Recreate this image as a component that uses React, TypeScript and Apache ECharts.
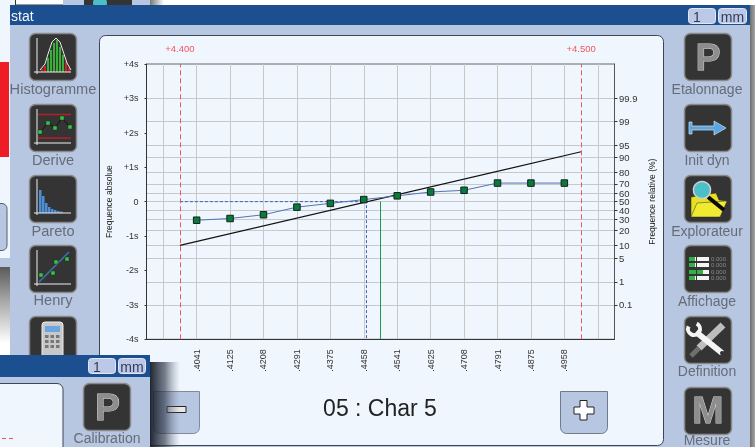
import React, { useEffect, useRef } from "react";
import * as echarts from "echarts";

const xValues = [4.40417, 4.4125, 4.42083, 4.42917, 4.4375, 4.44583, 4.45417, 4.4625, 4.47083, 4.47917, 4.4875, 4.49583];
const xTickLabels = [".4041", ".4125", ".4208", ".4291", ".4375", ".4458", ".4541", ".4625", ".4708", ".4791", ".4875", ".4958"];
const xGridValues = [4.39583, ...xValues, 4.50417];
const henryValues = [-0.54, -0.49, -0.38, -0.16, -0.05, 0.06, 0.17, 0.28, 0.33, 0.54, 0.54, 0.54];
const fitLine = [[4.4, -1.27], [4.5, 1.45]];
const medianGuide = [[4.4, 0], [4.4465, 0], [4.4465, -4]];
const meanGuide = [[4.45, 0], [4.45, -4]];
const limits = [4.4, 4.5];
const limitLabels = ["+4.400", "+4.500"];
const sigmaTicks = [-4, -3, -2, -1, 0, 1, 2, 3, 4];
const sigmaLabels = ["-4s", "-3s", "-2s", "-1s", "0", "+1s", "+2s", "+3s", "+4s"];
const percentTicks = [-3, -2.33, -1.645, -1.28, -0.84, -0.52, -0.25, 0, 0.25, 0.52, 0.84, 1.28, 1.645, 2.33, 3];
const percentLabels = ["0.1", "1", "5", "10", "20", "30", "40", "50", "60", "70", "80", "90", "95", "99", "99.9"];
const characteristic = "05 : Char 5";
const leftTools = ["Histogramme", "Derive", "Pareto", "Henry"];
const rightTools = ["Etalonnage", "Init dyn", "Explorateur", "Affichage", "Definition", "Mesure"];

const FONT = '"Liberation Sans", Arial, sans-serif';
const BODY = "#b7c6e1";
const TITLE = "#1c4f8f";
const PANEL = "#eff6fd";
const ICON = "#343434";

type El = Record<string, any>;

const rect = (x: number, y: number, w: number, h: number, fill: any, z = -10, stroke?: string, r: any = 0, lineWidth = 1): El => ({
  type: "rect", silent: true, z, shape: { x, y, width: w, height: h, r },
  style: { fill, stroke: stroke ?? "none", lineWidth },
});
const text = (x: number, y: number, t: string, size: number, fill: string, z = -10, align = "center", extra: El = {}): El => ({
  type: "text", silent: true, z, x, y,
  style: { text: t, fontSize: size, fontFamily: FONT, fill, textAlign: align, textVerticalAlign: "middle", ...extra },
});
const line = (x1: number, y1: number, x2: number, y2: number, stroke: string, lineWidth = 1, z = -9, lineDash?: number[]): El => ({
  type: "line", silent: true, z, shape: { x1, y1, x2, y2 }, style: { stroke, lineWidth, lineDash },
});
const poly = (points: number[][], fill: string, z = -9, stroke?: string, lineWidth = 1): El => ({
  type: "polygon", silent: true, z, shape: { points }, style: { fill, stroke: stroke ?? "none", lineWidth },
});
const pline = (points: number[][], stroke: string, lineWidth = 1, z = -9): El => ({
  type: "polyline", silent: true, z, shape: { points }, style: { stroke, lineWidth, fill: "none" },
});
const circle = (cx: number, cy: number, r: number, fill: string, z = -9, stroke?: string, lineWidth = 1): El => ({
  type: "circle", silent: true, z, shape: { cx, cy, r }, style: { fill, stroke: stroke ?? "none", lineWidth },
});
const hGrad = (stops: [number, string][]) => ({
  type: "linear", x: 0, y: 0, x2: 1, y2: 0, colorStops: stops.map(([offset, color]) => ({ offset, color })),
});
const vGrad = (stops: [number, string][]) => ({
  type: "linear", x: 0, y: 0, x2: 0, y2: 1, colorStops: stops.map(([offset, color]) => ({ offset, color })),
});

const frame = (x: number, y: number, z = -9, h = 47) => rect(x + 0.5, y + 0.5, 47, h, ICON, z, "#8a8a8a", 6, 1.5);
const square = (x: number, y: number) => rect(x - 2, y - 2, 4, 4, "#3fc04a", -8, "#0c3a12", 0, 0.5);
const axes = (ox: number, oy: number, top: number, right: number): El[] => [
  line(ox, top, ox, oy + 2, "#eeeeee", 1, -8),
  line(ox - 3, oy, right, oy, "#eeeeee", 1, -8),
];
const letter = (cx: number, cy: number, t: string, z = -8) =>
  text(cx, cy, t, 37, "#8d8d8d", z, "center", { fontWeight: "bold", stroke: "#d8d8d8", lineWidth: 1 });
const fieldBox = (x: number, y: number, w: number, t: string, z: number, left = false) =>
  [
    rect(x + 0.5, y + 0.5, w, 15, "#bcc8e8", z, "#dfe6f4", 3, 1),
    left
      ? text(x + 5, y + 8.5, t, 14, "#333a55", z + 1, "left")
      : text(x + w / 2 + 0.5, y + 8.5, t, 14, "#333a55", z + 1),
  ];

function chrome(): El[] {
  const els: El[] = [];
  // desktop behind the windows
  els.push(rect(0, 0, 755, 447, "#ffffff", -12));
  els.push(rect(0, 0, 10, 258, PANEL, -11));
  els.push(rect(0, 62, 9, 95, "#ee1c25", -11));
  els.push(rect(-6, 203.5, 13, 47, BODY, -11, "#555f70", 5));
  els.push(rect(0, 258, 10, 9, BODY, -11));
  els.push(rect(0, 267, 10, 76, vGrad([[0, "#5a5a5a"], [0.45, "#a8a8a8"], [1, "#ffffff"]]), -11));
  // the window peeking out above
  els.push(rect(0, 0, 150, 5, PANEL, -11));
  els.push(rect(15.5, -3, 48, 8, "#ffffff", -11, "#333333"));
  els.push(rect(63, 0, 87, 5, BODY, -11));
  els.push(rect(84, -5, 48, 10, ICON, -11));
  els.push(circle(100, 3, 7, "#4cc0c8", -10.5));
  els.push(rect(150, 0, 14, 5, hGrad([[0, "#7a7a7a"], [1, "#ffffff"]]), -11));
  // main window
  els.push(rect(750, 5, 5, 442, hGrad([[0, "#6e6e6e"], [1, "#a6a6a6"]]), -11));
  els.push(rect(10, 5, 740, 442, BODY));
  els.push(rect(10, 5, 740, 20, TITLE));
  els.push(text(11, 16, "stat", 14, "#f2f6ff", -9, "left"));
  els.push(...fieldBox(688, 8, 27, "1", -9, true), ...fieldBox(718, 8, 28, "mm", -9));
  els.push(rect(99.5, 35.5, 564, 410, PANEL, -9.5, "#3c4656", 6, 1));
  // left icons
  const leftY = [33, 104, 175, 245, 316];
  const leftLabelY = [89, 160, 231, 300];
  leftY.forEach((y) => els.push(frame(29, y)));
  leftTools.forEach((t, i) => els.push(text(53, leftLabelY[i], t, 14.6, "#666c78")));
  // histogram icon
  els.push(...axes(37, 72, 38, 71));
  const histo: [number, number, number, string][] = [
    [41, 2, 3, "#d02020"], [44, 2, 6, "#d02020"], [47, 2, 14, "#38b038"], [50, 2, 22, "#38b038"], [53, 2, 29, "#38b038"],
    [56, 2, 32, "#38b038"], [59, 2, 25, "#38b038"], [62, 2, 17, "#38b038"], [65, 2, 10, "#d02020"], [68, 2, 4, "#d02020"],
  ];
  histo.forEach(([x, w, h, c]) => els.push(rect(x, 72 - h, w, h, c, -8.5)));
  els.push(pline([[40, 70], [45, 64], [48, 54], [52, 42], [56, 38], [60, 42], [64, 54], [67, 63], [71, 70]], "#e8e8e8", 1, -8));
  // derive icon
  els.push(...axes(37, 143, 109, 71));
  els.push(line(38, 114.5, 71, 114.5, "#b02028", 1.5), line(38, 138, 71, 138, "#b02028", 1.5));
  const drift = [[40, 132], [48, 123], [55, 128], [62, 118], [70, 127]];
  els.push(pline(drift, "#111111", 1, -8.5));
  drift.forEach(([x, y]) => els.push(square(x, y)));
  // pareto icon
  els.push(...axes(37, 213, 179, 71));
  [[39, 23], [42, 17], [45, 10], [48, 6], [51, 4], [54, 3], [57, 2], [60, 1.5]].forEach(([x, h]) =>
    els.push(rect(x, 213 - h, 2.5, h, "#4a90d8", -8.5)));
  // henry icon
  els.push(...axes(37, 284, 250, 71));
  els.push(line(39, 282, 69, 252, "#3f70b0", 1.5));
  [[41, 275], [53, 273], [56, 262], [67, 259]].forEach(([x, y]) => els.push(square(x, y)));
  // calculator icon
  els.push(rect(42, 322, 21, 36, "#c8c8c8", -8, "#eeeeee", 3));
  els.push(rect(45, 326, 15, 6, "#6ca6e0", -7));
  for (let r = 0; r < 3; r++) for (let c = 0; c < 3; c++) els.push(rect(45 + c * 5.5, 335 + r * 5, 3.5, 3, "#777777", -7));
  // right icons
  const rightY = [33, 104, 175, 245, 316, 387];
  const rightLabelY = [89, 160, 231, 301, 371, 440];
  rightY.forEach((y) => els.push(frame(684, y)));
  rightTools.forEach((t, i) => els.push(text(707, rightLabelY[i], t, 14, "#666c78")));
  els.push(letter(708, 57, "P"));
  els.push(letter(708, 410, "M"));
  // arrow
  els.push(poly([[689, 122], [692, 122], [692, 126], [714, 126], [714, 121], [726, 128], [714, 135], [714, 130], [692, 130], [692, 134], [689, 134]], "#5ba5e4", -8, "#d0e4f4", 0.7));
  // explorer
  els.push(poly([[691, 197], [716, 193], [719, 200], [727, 201], [720, 217], [691, 217]], "#e6e020", -8, "#222222", 0.5));
  els.push(poly([[691, 217], [697, 203], [727, 201], [720, 217]], "#f0ea30", -7.8, "#333333", 0.5));
  els.push(line(708, 197, 724, 210, "#0a0a0a", 4, -7.5));
  els.push(circle(702, 190, 8.5, "#4cc0c8", -7.5, "#cfcfcf", 1.5));
  // display
  [259, 265, 272, 278].forEach((y, i) => {
    els.push(rect(689, y - 2, 20, 4, "#f4f4f4", -8));
    els.push(rect(689, y - 2, i === 2 ? 14 : 6, 4, "#34b04a", -7.8));
    els.push(rect(696, y - 2, 1, 4, ICON, -7.6));
    els.push(text(711, y, "0.000", 6, "#8a8a8a", -8, "left"));
  });
  // tools
  els.push(line(723, 325, 699, 348, "#bdbdbd", 7));
  els.push(line(699, 348, 691, 356, "#6e6e6e", 5));
  els.push(line(696, 332, 722, 353, "#f4f4f4", 6, -8));
  els.push({ type: "arc", silent: true, z: -8, shape: { cx: 694, cy: 329, r: 6, startAngle: -1.1, endAngle: 3.6, clockwise: true }, style: { stroke: "#f4f4f4", lineWidth: 4, fill: "none" } });
  els.push(circle(722, 353, 2, ICON, -7.5));
  // bottom buttons
  els.push(rect(153.5, 391.5, 46, 42, BODY, -8, "#808a9c", [0, 0, 6, 6]));
  els.push(rect(167, 406.5, 19, 6, "#e8e8e8", -7, "#222222"));
  els.push(rect(560.5, 391.5, 47, 42, BODY, -8, "#707a8c", [0, 0, 6, 6]));
  els.push(poly([[580, 400.5], [587, 400.5], [587, 407], [594, 407], [594, 414], [587, 414], [587, 420], [580, 420], [580, 414], [574, 414], [574, 407], [580, 407]], "#ffffff", -7, "#222222", 1));
  els.push(text(380, 408, characteristic, 23, "#222222", -7));
  els.push(rect(150, 362, 30, 85, hGrad([[0, "rgba(20,28,40,0.95)"], [0.5, "rgba(50,60,75,0.65)"], [1, "rgba(120,130,150,0)"]]), -6));
  // overlay window bottom left
  const zo = 10;
  els.push(rect(0, 355, 150, 92, BODY, zo));
  els.push(rect(0, 355, 150, 22, TITLE, zo));
  els.push(...fieldBox(88, 358, 27, "1", zo, true), ...fieldBox(118, 358, 27, "mm", zo));
  els.push(rect(-8, 383.5, 71, 70, PANEL, zo, "#3c4656", 6));
  els.push(line(2, 438.5, 14, 438.5, "#f05050", 1, zo + 1, [4, 3]));
  els.push(rect(83.5, 383.5, 47, 47, ICON, zo + 1, "#8a8a8a", 6, 1.5));
  els.push(letter(107.5, 407, "P", zo + 2));
  els.push(text(107, 438, "Calibration", 14, "#666c78", zo + 1));
  return els;
}

export default function App() {
  const ref = useRef<HTMLDivElement>(null);
  useEffect(() => {
    const chart = echarts.init(ref.current!, undefined, { renderer: "svg" });
    chart.setOption({
      animation: false,
      backgroundColor: "transparent",
      textStyle: { fontFamily: FONT },
      graphic: { elements: chrome() },
      grid: { left: 146.5, right: 140.5, top: 64, bottom: 107.7, show: true, borderColor: "#666666", borderWidth: 1, backgroundColor: "transparent" },
      xAxis: {
        type: "value", min: 4.39167, max: 4.50833,
        axisLine: { show: true, onZero: false, lineStyle: { color: "#333333" } },
        axisTick: { show: false, customValues: xGridValues },
        splitLine: { show: true, lineStyle: { color: "#c8c8c8", width: 1 } },
        axisLabel: {
          customValues: xValues, rotate: 90, margin: 10, fontSize: 9, color: "#333333", fontFamily: FONT,
          formatter: (v: number) => xTickLabels[xValues.indexOf(v)] ?? "",
        },
      },
      yAxis: [
        {
          type: "value", min: -4, max: 4, position: "left",
          name: "Frequence absolue", nameLocation: "middle", nameRotate: 90, nameGap: 33, nameMoveOverlap: false,
          nameTextStyle: { fontSize: 8.5, color: "#222222", fontFamily: FONT },
          axisLine: { show: true, onZero: false, lineStyle: { color: "#333333" } },
          axisTick: { show: true, length: 2, customValues: sigmaTicks, lineStyle: { color: "#333333" } },
          splitLine: { show: false },
          axisLabel: {
            customValues: sigmaTicks, margin: 8, fontSize: 9, color: "#333333", fontFamily: FONT,
            formatter: (v: number) => sigmaLabels[sigmaTicks.indexOf(v)] ?? "",
          },
        },
        {
          type: "value", min: -4, max: 4, position: "right",
          name: "Frequence relative (%)", nameLocation: "middle", nameRotate: 90, nameGap: 33, nameMoveOverlap: false,
          nameTextStyle: { fontSize: 8.5, color: "#222222", fontFamily: FONT },
          axisLine: { show: true, onZero: false, lineStyle: { color: "#555555" } },
          axisTick: { show: true, length: 3, customValues: percentTicks, lineStyle: { color: "#333333" } },
          splitLine: { show: true, lineStyle: { color: "#c8c8c8", width: 1 } },
          axisLabel: {
            customValues: percentTicks, margin: 4.5, fontSize: 9.5, color: "#333333", fontFamily: FONT,
            formatter: (v: number) => percentLabels[percentTicks.indexOf(v)] ?? "",
          },
        },
      ],
      series: [
        {
          type: "line", name: "limits", data: [], silent: true, symbol: "none", z: 3,
          markLine: {
            silent: true, symbol: "none", animation: false,
            lineStyle: { color: "#f4555f", type: [5, 3], width: 1 },
            label: { show: true, position: "end", distance: 11, fontSize: 9.5, color: "#f4555f", fontFamily: FONT, formatter: (p: any) => p.name },
            data: limits.map((x, i) => ({ xAxis: x, name: limitLabels[i] })),
          },
        },
        { type: "line", name: "median", data: medianGuide, symbol: "none", silent: true, z: 3, lineStyle: { color: "#3f5fc0", type: [3, 2], width: 1 } },
        { type: "line", name: "mean", data: meanGuide, symbol: "none", silent: true, z: 3, lineStyle: { color: "#1c9a50", width: 1 } },
        { type: "line", name: "fit", data: fitLine, symbol: "none", silent: true, z: 4, lineStyle: { color: "#111111", width: 1.2 } },
        {
          type: "line", name: "henry", data: xValues.map((x, i) => [x, henryValues[i]]), silent: true, z: 5,
          symbol: "rect", symbolSize: 6.5,
          lineStyle: { color: "#5572b4", width: 1 },
          itemStyle: { color: "#0a7a3c", borderColor: "#10231a", borderWidth: 1 },
        },
      ],
    });
    return () => chart.dispose();
  }, []);
  return <div ref={ref} style={{ position: "fixed", left: 0, top: 0, width: 755, height: 447 }} />;
}
